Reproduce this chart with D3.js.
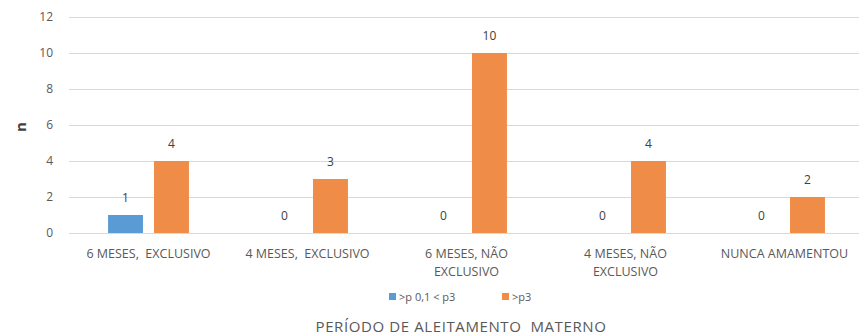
<!DOCTYPE html>
<html>
<head>
<meta charset="utf-8">
<script src="https://cdn.jsdelivr.net/npm/d3@7"></script>
<style>
  html, body { margin: 0; padding: 0; background: #fff; }
  svg { display: block; font-family: "Open Sans", "Liberation Sans", sans-serif; }
  text { white-space: pre; }
</style>
</head>
<body>
<svg id="chart" width="859" height="335"></svg>
<script>
// Categories (each entry is the list of lines of the label)
const categories = [
  ["6 MESES,  EXCLUSIVO"],
  ["4 MESES,  EXCLUSIVO"],
  ["6 MESES, NÃO", "EXCLUSIVO"],
  ["4 MESES, NÃO", "EXCLUSIVO"],
  ["NUNCA AMAMENTOU"]
];
const seriesNames = [">p 0,1 < p3", ">p3"];
const seriesLow = [1, 0, 0, 0, 0];
const seriesHigh = [4, 3, 10, 4, 2];
const yTicks = [0, 2, 4, 6, 8, 10, 12];
const xTitle = "PERÍODO DE ALEITAMENTO  MATERNO";
const yTitle = "n";

const colors = ["#5b9bd5", "#ef8c47"];
const seriesValues = [seriesLow, seriesHigh];

const svg = d3.select("#chart");
const textColor = "#595959";

const x0 = d3.scaleBand()
  .domain(d3.range(categories.length))
  .range([69, 864])
  .paddingInner(0)
  .paddingOuter(0);

const x1 = d3.scaleBand()
  .domain(d3.range(seriesNames.length))
  .range([0, x0.bandwidth()])
  .paddingInner(0.24)
  .paddingOuter(0.85);

const y = d3.scaleLinear().domain([0, 12]).range([233, 17]);

// Gridlines and y tick labels
const yAxis = svg.append("g")
  .attr("transform", "translate(69,0)")
  .call(d3.axisLeft(y).tickValues(yTicks).tickSize(-(859 - 69)).tickPadding(16).tickFormat(d3.format("d")));
yAxis.select(".domain").remove();
yAxis.selectAll("line").attr("stroke", "#d9d9d9").attr("stroke-width", 1);
yAxis.selectAll("text")
  .attr("fill", textColor)
  .style("font-size", "12px")
  .style("font-family", "'Open Sans', sans-serif");

// Bars
const groups = svg.append("g").selectAll("g")
  .data(categories.map((c, i) => i))
  .join("g")
  .attr("transform", i => `translate(${x0(i)},0)`);

groups.selectAll("rect")
  .data(i => seriesValues.map((vals, s) => ({ s, v: vals[i] })))
  .join("rect")
  .attr("x", d => x1(d.s))
  .attr("width", x1.bandwidth())
  .attr("y", d => y(d.v))
  .attr("height", d => y(0) - y(d.v))
  .attr("fill", d => colors[d.s]);

// Value labels
groups.selectAll("text.val")
  .data(i => seriesValues.map((vals, s) => ({ s, v: vals[i] })))
  .join("text")
  .attr("class", "val")
  .attr("x", d => x1(d.s) + x1.bandwidth() / 2)
  .attr("y", d => y(d.v) - 13)
  .attr("text-anchor", "middle")
  .attr("fill", "#404040")
  .style("font-size", "12px")
  .text(d => d.v);

// Category labels
const catLabels = svg.append("g").selectAll("text")
  .data(categories)
  .join("text")
  .attr("x", (d, i) => x0(i) + x0.bandwidth() / 2)
  .attr("y", 258)
  .attr("text-anchor", "middle")
  .attr("fill", textColor)
  .style("font-size", "12.5px");
catLabels.selectAll("tspan")
  .data(d => d)
  .join("tspan")
  .attr("x", function () { return d3.select(this.parentNode).attr("x"); })
  .attr("dy", (d, j) => j === 0 ? 0 : 18)
  .text(d => d);

// Y axis title
svg.append("text")
  .attr("transform", "translate(26,127) rotate(-90)")
  .attr("text-anchor", "middle")
  .attr("fill", "#404040")
  .style("font-size", "15px")
  .style("font-weight", "bold")
  .text(yTitle);

// Legend
const legendItems = [
  { x: 389, label: seriesNames[0], color: colors[0] },
  { x: 502, label: seriesNames[1], color: colors[1] }
];
const legend = svg.append("g").selectAll("g")
  .data(legendItems)
  .join("g")
  .attr("transform", d => `translate(${d.x},293)`);
legend.append("rect").attr("width", 7).attr("height", 7).attr("fill", d => d.color);
legend.append("text")
  .attr("x", 10).attr("y", 7.5)
  .attr("fill", textColor)
  .style("font-size", "11px")
  .text(d => d.label);

// X axis title
svg.append("text")
  .attr("x", 461)
  .attr("y", 332)
  .attr("text-anchor", "middle")
  .attr("fill", textColor)
  .style("font-size", "15px")
  .style("letter-spacing", "0.6px")
  .text(xTitle);
</script>
</body>
</html>
